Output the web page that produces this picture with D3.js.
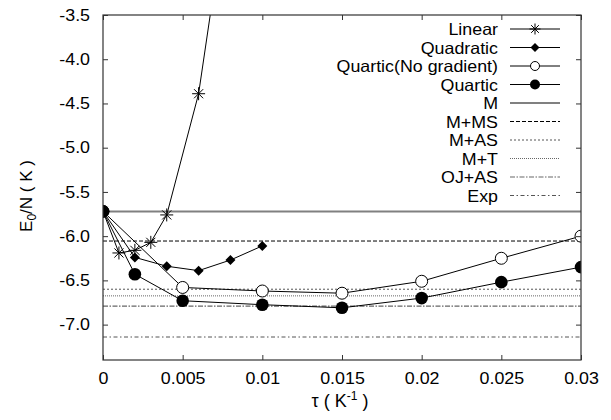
<!DOCTYPE html>
<html>
<head>
<meta charset="utf-8">
<script src="https://cdn.jsdelivr.net/npm/d3@7"></script>
<style>
  html, body { margin: 0; padding: 0; background: #fff; overflow: hidden; }
  svg { display: block; }
</style>
</head>
<body>
<svg id="chart"></svg>
<script>
// data
const tauLinear = [0, 0.001, 0.002, 0.003, 0.004, 0.006, 0.008];
const eLinear = [-5.72, -6.19, -6.16, -6.07, -5.76, -4.39, -1.95];

const tauQuadratic = [0, 0.002, 0.004, 0.006, 0.008, 0.01];
const eQuadratic = [-5.72, -6.24, -6.34, -6.39, -6.27, -6.11];

const tauQuarticNoGrad = [0, 0.005, 0.01, 0.015, 0.02, 0.025, 0.03];
const eQuarticNoGrad = [-5.72, -6.58, -6.62, -6.645, -6.51, -6.25, -6.0];

const tauQuartic = [0, 0.002, 0.005, 0.01, 0.015, 0.02, 0.025, 0.03];
const eQuartic = [-5.72, -6.43, -6.73, -6.775, -6.81, -6.70, -6.52, -6.35];

// horizontal reference levels
const refNames = ['M', 'M+MS', 'M+AS', 'M+T', 'OJ+AS', 'Exp'];
const refValues = [-5.72, -6.055, -6.60, -6.675, -6.79, -7.14];

const xTicks = [0, 0.005, 0.01, 0.015, 0.02, 0.025, 0.03];
const yTicks = [-3.5, -4.0, -4.5, -5.0, -5.5, -6.0, -6.5, -7.0];

//Set up svg
const width = 611;
const height = 420;
const margin = { top: 15, right: 30, bottom: 60, left: 103 };
const innerWidth = width - margin.left - margin.right;
const innerHeight = height - margin.top - margin.bottom;
const font = '"Liberation Sans", Arial, sans-serif';
const fontSize = 16.5;
const sx = 1.08; // glyphs in the picture run a bit wider than Arial

//Widen text a little, the way the picture's font is
const stretch = (sel) => sel.each(function () {
  const w = this.getComputedTextLength();
  d3.select(this).attr('textLength', w * sx).attr('lengthAdjust', 'spacingAndGlyphs');
});

const svg = d3.select('#chart')
  .attr('width', width).attr('height', height)
  .attr('viewBox', `0 0 ${width} ${height}`)
  .attr('font-family', font);

const xScale = d3.scaleLinear().domain([0, 0.03]).range([margin.left, margin.left + innerWidth]);
const yScale = d3.scaleLinear().domain([-7.4, -3.5]).range([margin.top + innerHeight, margin.top]);

svg.append('clipPath').attr('id', 'plot-clip')
  .append('rect')
  .attr('x', margin.left).attr('y', margin.top)
  .attr('width', innerWidth).attr('height', innerHeight);

//Reference lines
const refStyles = [
  { stroke: '#808080', width: 2, dash: null },
  { stroke: '#000', width: 1, dash: '4,2' },
  { stroke: '#555', width: 1, dash: '2,2' },
  { stroke: '#666', width: 1, dash: '1,1' },
  { stroke: '#666', width: 1.2, dash: '5,1.5,1.5,1.5' },
  { stroke: '#555', width: 1, dash: '4,2.5,1.5,2.5' },
];

svg.append('g').selectAll('line')
  .data(refValues)
  .join('line')
  .attr('x1', xScale(0))
  .attr('x2', xScale(0.03))
  .attr('y1', (d) => yScale(d))
  .attr('y2', (d) => yScale(d))
  .attr('stroke', (d, i) => refStyles[i].stroke)
  .attr('stroke-width', (d, i) => refStyles[i].width)
  .attr('stroke-dasharray', (d, i) => refStyles[i].dash);

//Marker shapes
const asterisk = (s) =>
  `M${-s},0L${s},0M0,${-s}L0,${s}M${-s * 0.7},${-s * 0.7}L${s * 0.7},${s * 0.7}M${-s * 0.7},${s * 0.7}L${s * 0.7},${-s * 0.7}`;
const diamond = (s) => `M0,${-s}L${s},0L0,${s}L${-s},0Z`;

const series = [
  { name: 'Linear', tau: tauLinear, e: eLinear, marker: 'asterisk' },
  { name: 'Quadratic', tau: tauQuadratic, e: eQuadratic, marker: 'diamond' },
  { name: 'Quartic(No gradient)', tau: tauQuarticNoGrad, e: eQuarticNoGrad, marker: 'open' },
  { name: 'Quartic', tau: tauQuartic, e: eQuartic, marker: 'filled' },
];

const drawMarker = (g, type, x, y, big) => {
  if (type === 'asterisk') {
    g.append('path').attr('d', asterisk(big ? 6.5 : 5.5))
      .attr('transform', `translate(${x},${y})`)
      .attr('fill', 'none').attr('stroke', '#000').attr('stroke-width', 1);
  } else if (type === 'diamond') {
    g.append('path').attr('d', diamond(big ? 5 : 4.5))
      .attr('transform', `translate(${x},${y})`).attr('fill', '#000');
  } else if (type === 'open') {
    g.append('circle').attr('cx', x).attr('cy', y).attr('r', big ? 6 : 4.5)
      .attr('fill', '#fff').attr('stroke', '#000').attr('stroke-width', 1);
  } else {
    g.append('circle').attr('cx', x).attr('cy', y).attr('r', big ? 6.3 : 5)
      .attr('fill', '#000');
  }
};

const line = d3.line().x((d) => xScale(d[0])).y((d) => yScale(d[1]));

series.forEach((s) => {
  const pts = s.tau.map((t, i) => [t, s.e[i]]);
  const g = svg.append('g').attr('clip-path', 'url(#plot-clip)');
  g.append('path').datum(pts)
    .attr('fill', 'none').attr('stroke', '#000').attr('stroke-width', 1)
    .attr('d', line);
  pts.forEach((p) => drawMarker(g, s.marker, xScale(p[0]), yScale(p[1]), true));
});

//Frame and inward ticks on all four sides
const axisStyle = (g) => {
  g.attr('font-family', font).attr('font-size', fontSize);
  g.select('.domain').remove();
  g.selectAll('.tick line').attr('stroke', '#333');
  g.selectAll('.tick text').attr('fill', '#000');
};

svg.append('g')
  .attr('transform', `translate(0,${margin.top + innerHeight})`)
  .call(d3.axisBottom(xScale).tickValues(xTicks).tickSizeInner(-5).tickSizeOuter(0)
    .tickPadding(12).tickFormat((d) => String(+d.toFixed(3))))
  .call(axisStyle)
  .call((g) => g.selectAll('.tick text').call(stretch));

svg.append('g')
  .attr('transform', `translate(0,${margin.top})`)
  .call(d3.axisTop(xScale).tickValues(xTicks).tickSizeInner(-5).tickSizeOuter(0))
  .call(axisStyle)
  .call((g) => g.selectAll('text').remove());

svg.append('g')
  .attr('transform', `translate(${margin.left},0)`)
  .call(d3.axisLeft(yScale).tickValues(yTicks).tickSizeInner(-5).tickSizeOuter(0)
    .tickPadding(13).tickFormat((d) => d.toFixed(1)))
  .call(axisStyle)
  .call((g) => g.selectAll('.tick text').call(stretch));

svg.append('g')
  .attr('transform', `translate(${margin.left + innerWidth},0)`)
  .call(d3.axisRight(yScale).tickValues(yTicks).tickSizeInner(-5).tickSizeOuter(0))
  .call(axisStyle)
  .call((g) => g.selectAll('text').remove());

svg.append('rect')
  .attr('x', margin.left).attr('y', margin.top)
  .attr('width', innerWidth).attr('height', innerHeight)
  .attr('fill', 'none').attr('stroke', '#333').attr('stroke-width', 1.2);

//Legend
const legendX = 498;
const legendY = 29;
const legendStep = 18.5;
const legendItems = series.map((s) => ({ name: s.name, marker: s.marker }))
  .concat(refNames.map((n, i) => ({ name: n, ref: i })));

const legend = svg.append('g');
legendItems.forEach((item, i) => {
  const y = legendY + i * legendStep;
  legend.append('text')
    .attr('text-anchor', 'end')
    .attr('font-size', fontSize)
    .attr('x', legendX).attr('y', y + 6)
    .text(item.name)
    .call(stretch);
  if (item.ref === undefined) {
    legend.append('line')
      .attr('x1', 510).attr('x2', 560).attr('y1', y).attr('y2', y)
      .attr('stroke', '#000').attr('stroke-width', 1);
    drawMarker(legend, item.marker, 535, y, false);
  } else {
    const st = refStyles[item.ref];
    legend.append('line')
      .attr('x1', 510).attr('x2', 560).attr('y1', y).attr('y2', y)
      .attr('stroke', st.stroke).attr('stroke-width', st.width)
      .attr('stroke-dasharray', st.dash);
  }
});

//Axis titles
const xLabel = svg.append('text')
  .attr('text-anchor', 'middle')
  .attr('font-size', 18)
  .attr('x', 340).attr('y', 407);
xLabel.append('tspan').text('τ ( K');
xLabel.append('tspan').attr('font-size', 12).attr('dy', -7).text('-1');
xLabel.append('tspan').attr('dy', 7).text(' )');

const yLabel = svg.append('text')
  .attr('text-anchor', 'middle')
  .attr('font-size', 17)
  .attr('x', -196).attr('y', 32)
  .attr('transform', 'rotate(-90)');
yLabel.append('tspan').text('E');
yLabel.append('tspan').attr('font-size', 12).attr('dy', 4).text('0');
yLabel.append('tspan').attr('dy', -4).text('/N ( K )');
</script>
</body>
</html>
